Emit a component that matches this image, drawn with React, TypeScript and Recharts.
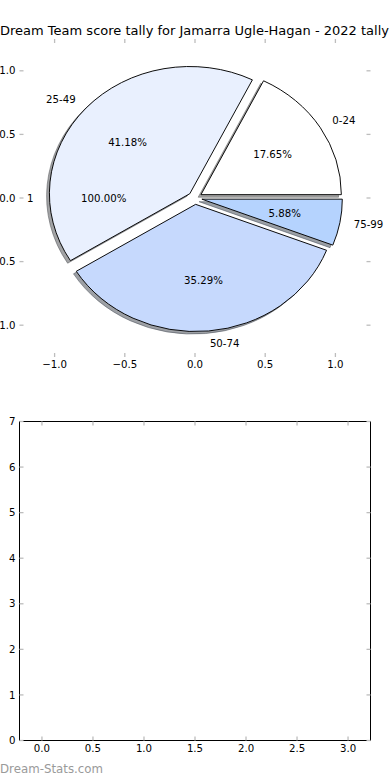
import React from "react";
import { ComposedChart, XAxis, YAxis, Scatter, PieChart, Pie, Cell } from "recharts";

// ---------- data ----------
const categories = ["0-24", "25-49", "50-74", "75-99"];
const tallyCounts = [3, 7, 6, 1];
const sliceColors = ["#ffffff", "#e9f0fe", "#c6d9fd", "#b5d3fe"];
const explode = [0.05, 0.05, 0.05, 0.05];
const totalLabels = ["1"];
const totalCounts = [17];
const totalExplode = [0.05];
const pieTicks = [-1, -0.5, 0, 0.5, 1];
const emptyXTicks = [0, 0.5, 1, 1.5, 2, 2.5, 3];
const emptyYTicks = [0, 1, 2, 3, 4, 5, 6, 7];
const emptyXDomain = [-0.22, 3.22];
const emptyYDomain = [0, 7];
const title = "Dream Team score tally for Jamarra Ugle-Hagan - 2022 tally";
const watermark = "Dream-Stats.com";

// ---------- layout ----------
const FONT = "'DejaVu Sans', sans-serif";
const TICK_FS = 10.2;
const PIE_LEFT = 19.5;
const PIE_RIGHT = 370.5;
const PIE_TOP = 39;
const PIE_BOTTOM = 357;
const LIM = 1.25;
const SX = (PIE_RIGHT - PIE_LEFT) / (2 * LIM);
const SY = (PIE_BOTTOM - PIE_TOP) / (2 * LIM);
const CX = (PIE_LEFT + PIE_RIGHT) / 2;
const CY = (PIE_TOP + PIE_BOTTOM) / 2;
const K = SY / SX;

const pieData = categories.map((name, i) => ({ name, value: tallyCounts[i] }));
const totalData = totalLabels.map((name, i) => ({ name, value: totalCounts[i] }));

// invisible anchors so the axes get their scales
const pieAxisAnchors = pieTicks.map((t) => ({ x: t, y: t }));
const emptyAxisAnchors = emptyXTicks.map((t, i) => ({ x: t, y: emptyYTicks[i] }));

const sum = tallyCounts.reduce((a, b) => a + b, 0);
const midAngles: number[] = [];
{
  let acc = 0;
  tallyCounts.forEach((v) => {
    midAngles.push(((acc + v / 2) / sum) * 360);
    acc += v;
  });
}

const fmt = (v: number, d: number) => v.toFixed(d).replace("-", "\u2212");

const shade = (hex: string) => {
  const n = parseInt(hex.slice(1), 16);
  const r = Math.round(((n >> 16) & 255) * 0.3);
  const g = Math.round(((n >> 8) & 255) * 0.3);
  const b = Math.round((n & 255) * 0.3);
  return `rgb(${r},${g},${b})`;
};

const makeLabel = (explodes: number[]) => (props: any) => {
  const { cx, cy, midAngle, outerRadius, percent, name, index } = props;
  const rad = (midAngle * Math.PI) / 180;
  const c = Math.cos(rad);
  const s = Math.sin(rad);
  const e = explodes[index] ?? 0;
  const lr = (1.1 + e) * outerRadius;
  const pr = (0.6 + e) * outerRadius;
  const lx = cx + lr * c;
  const ly = cy - lr * s * K;
  const px = cx + pr * c;
  const py = cy - pr * s * K;
  return (
    <g>
      <text
        x={lx}
        y={ly}
        textAnchor={c > 0 ? "start" : "end"}
        dominantBaseline="central"
        fontSize={TICK_FS}
        fontFamily={FONT}
        fill="#000"
      >
        {name}
      </text>
      <text
        x={px}
        y={py}
        textAnchor="middle"
        dominantBaseline="central"
        fontSize={TICK_FS}
        fontFamily={FONT}
        fill="#000"
      >
        {(percent * 100).toFixed(2) + "%"}
      </text>
    </g>
  );
};

const tickStyle = { fill: "#000", fontSize: TICK_FS, fontFamily: FONT };
const tickLineStyle = { stroke: "#bdbdbd", strokeWidth: 1.3 };
const hiddenShape = () => <g />;
const hiddenTick = () => <g />;

export default function App() {
  const offsets = midAngles.map((m, i) => {
    const rad = (m * Math.PI) / 180;
    return { dx: explode[i] * SX * Math.cos(rad), dy: -explode[i] * SX * Math.sin(rad) };
  });
  const shadowOff = 0.02 * SX;

  return (
    <div
      style={{
        position: "absolute",
        left: 0,
        top: 0,
        width: 390,
        height: 780,
        background: "#fff",
        overflow: "hidden",
        fontFamily: FONT,
      }}
    >
      {/* title */}
      <div
        style={{
          position: "absolute",
          left: -0.5,
          top: 23.7,
          width: 390,
          textAlign: "center",
          fontSize: 13,
          lineHeight: 1,
          whiteSpace: "nowrap",
          color: "#000",
        }}
      >
        {title}
      </div>

      {/* top panel axes (ticks only) */}
      <div style={{ position: "absolute", left: 0, top: 0 }}>
        <ComposedChart
          width={390}
          height={390}
          margin={{ top: PIE_TOP - 1, right: 390 - PIE_RIGHT - 1, bottom: 390 - PIE_BOTTOM - 30, left: 0 }}
        >
          <XAxis
            xAxisId="b"
            dataKey="x"
            type="number"
            orientation="bottom"
            domain={[-LIM, LIM]}
            ticks={pieTicks}
            interval={0}
            height={30}
            axisLine={false}
            tickLine={tickLineStyle}
            tickSize={-4}
            tickMargin={8}
            tick={tickStyle}
            tickFormatter={(v: number) => fmt(v, 1)}
          />
          <XAxis
            xAxisId="t"
            dataKey="x"
            type="number"
            orientation="top"
            domain={[-LIM, LIM]}
            ticks={pieTicks}
            interval={0}
            height={1}
            axisLine={false}
            tickLine={tickLineStyle}
            tickSize={-4}
            tick={hiddenTick}
          />
          <YAxis
            yAxisId="l"
            dataKey="y"
            type="number"
            orientation="left"
            domain={[-LIM, LIM]}
            ticks={pieTicks}
            interval={0}
            width={PIE_LEFT}
            axisLine={false}
            tickLine={tickLineStyle}
            tickSize={-4}
            tickMargin={8}
            tick={tickStyle}
            tickFormatter={(v: number) => fmt(v, 1)}
          />
          <YAxis
            yAxisId="r"
            dataKey="y"
            type="number"
            orientation="right"
            domain={[-LIM, LIM]}
            ticks={pieTicks}
            interval={0}
            width={1}
            axisLine={false}
            tickLine={tickLineStyle}
            tickSize={-4}
            tick={hiddenTick}
          />
          <Scatter data={pieAxisAnchors} xAxisId="b" yAxisId="l" dataKey="y" shape={hiddenShape} isAnimationActive={false} />
          <Scatter data={pieAxisAnchors} xAxisId="t" yAxisId="r" dataKey="y" shape={hiddenShape} isAnimationActive={false} />
        </ComposedChart>
      </div>

      {/* pie wedges (elliptical via vertical scale) */}
      <div
        style={{
          position: "absolute",
          left: 0,
          top: 0,
          width: 390,
          height: 400,
          transform: `scaleY(${K})`,
          transformOrigin: `${CX}px ${CY}px`,
        }}
      >
        <PieChart width={390} height={400} margin={{ top: 0, right: 0, bottom: 0, left: 0 }}>
          {pieData.map((_, i) => (
            <Pie
              key={"s" + i}
              data={pieData}
              dataKey="value"
              nameKey="name"
              cx={CX + offsets[i].dx - shadowOff}
              cy={CY + offsets[i].dy + shadowOff}
              outerRadius={SX}
              startAngle={0}
              endAngle={360}
              isAnimationActive={false}
              labelLine={false}
            >
              {pieData.map((_, j) => (
                <Cell
                  key={j}
                  fill={j === i ? shade(sliceColors[j]) : "none"}
                  fillOpacity={0.5}
                  stroke={j === i ? shade(sliceColors[j]) : "none"}
                  strokeOpacity={0.5}
                  strokeWidth={1}
                />
              ))}
            </Pie>
          ))}
          {pieData.map((_, i) => (
            <Pie
              key={"w" + i}
              data={pieData}
              dataKey="value"
              nameKey="name"
              cx={CX + offsets[i].dx}
              cy={CY + offsets[i].dy}
              outerRadius={SX}
              startAngle={0}
              endAngle={360}
              isAnimationActive={false}
              labelLine={false}
            >
              {pieData.map((_, j) => (
                <Cell
                  key={j}
                  fill={j === i ? sliceColors[j] : "none"}
                  stroke={j === i ? "#000" : "none"}
                  strokeWidth={1}
                />
              ))}
            </Pie>
          ))}
        </PieChart>
      </div>

      {/* labels layer */}
      <div style={{ position: "absolute", left: 0, top: 0 }}>
        <PieChart width={390} height={400} margin={{ top: 0, right: 0, bottom: 0, left: 0 }}>
          <Pie
            data={totalData}
            dataKey="value"
            nameKey="name"
            cx={CX}
            cy={CY}
            outerRadius={SX}
            startAngle={0}
            endAngle={360}
            fill="none"
            stroke="none"
            isAnimationActive={false}
            labelLine={false}
            label={makeLabel(totalExplode)}
          />
          <Pie
            data={pieData}
            dataKey="value"
            nameKey="name"
            cx={CX}
            cy={CY}
            outerRadius={SX}
            startAngle={0}
            endAngle={360}
            fill="none"
            stroke="none"
            isAnimationActive={false}
            labelLine={false}
            label={makeLabel(explode)}
          />
        </PieChart>
      </div>

      {/* bottom empty panel */}
      <div style={{ position: "absolute", left: 0, top: 400 }}>
        <ComposedChart
          width={390}
          height={380}
          margin={{ top: 20.5, right: 390 - 370.5 - 1, bottom: 380 - 340.5 - 30, left: 0 }}
        >
          <XAxis
            xAxisId="b"
            dataKey="x"
            type="number"
            orientation="bottom"
            domain={emptyXDomain}
            ticks={emptyXTicks}
            interval={0}
            height={30}
            axisLine={{ stroke: "#000", strokeWidth: 1 }}
            tickLine={tickLineStyle}
            tickSize={-4}
            tickMargin={8}
            tick={tickStyle}
            tickFormatter={(v: number) => fmt(v, 1)}
          />
          <XAxis
            xAxisId="t"
            dataKey="x"
            type="number"
            orientation="top"
            domain={emptyXDomain}
            ticks={emptyXTicks}
            interval={0}
            height={1}
            axisLine={{ stroke: "#000", strokeWidth: 1 }}
            tickLine={tickLineStyle}
            tickSize={-4}
            tick={hiddenTick}
          />
          <YAxis
            yAxisId="l"
            dataKey="y"
            type="number"
            orientation="left"
            domain={emptyYDomain}
            ticks={emptyYTicks}
            interval={0}
            width={19.5}
            axisLine={{ stroke: "#000", strokeWidth: 1 }}
            tickLine={tickLineStyle}
            tickSize={-4}
            tickMargin={8}
            tick={tickStyle}
            tickFormatter={(v: number) => String(v)}
          />
          <YAxis
            yAxisId="r"
            dataKey="y"
            type="number"
            orientation="right"
            domain={emptyYDomain}
            ticks={emptyYTicks}
            interval={0}
            width={1}
            axisLine={{ stroke: "#000", strokeWidth: 1 }}
            tickLine={tickLineStyle}
            tickSize={-4}
            tick={hiddenTick}
          />
          <Scatter data={emptyAxisAnchors} xAxisId="b" yAxisId="l" dataKey="y" shape={hiddenShape} isAnimationActive={false} />
          <Scatter data={emptyAxisAnchors} xAxisId="t" yAxisId="r" dataKey="y" shape={hiddenShape} isAnimationActive={false} />
        </ComposedChart>
      </div>

      {/* watermark */}
      <div
        style={{
          position: "absolute",
          left: 0,
          top: 764.2,
          fontSize: 11.8,
          lineHeight: 1,
          color: "#9a9a9a",
          whiteSpace: "nowrap",
        }}
      >
        {watermark}
      </div>
    </div>
  );
}
